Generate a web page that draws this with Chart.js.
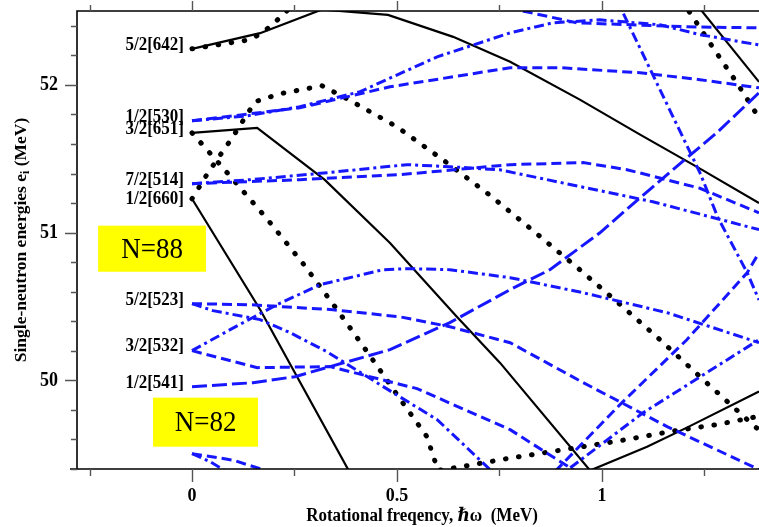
<!DOCTYPE html>
<html>
<head>
<meta charset="utf-8">
<script src="https://cdn.jsdelivr.net/npm/chart.js@4.4.0/dist/chart.umd.min.js"></script>
<style>
  html, body { margin: 0; padding: 0; background: #fff; }
  canvas { display: block; }
</style>
</head>
<body>
<canvas id="routhians" width="759" height="527"></canvas>
<script>
'use strict';
/* ═══════════════════════════════════════════════════════════════════════════
   Single-neutron routhians e_i vs rotational frequency (N=82..88 region)
   ═══════════════════════════════════════════════════════════════════════════ */

// ─── Orbital labels at hw = 0 ──────────────────────────────────────────────
const orbitals  = ['5/2[642]', '1/2[530]', '3/2[651]', '7/2[514]', '1/2[660]', '5/2[523]', '3/2[532]', '1/2[541]'];
const orbitalE  = [52.244, 51.757, 51.675, 51.331, 51.229, 50.519, 50.201, 49.957];
const gapLabels = ['N=88', 'N=82'];

// ─── Axis ticks ────────────────────────────────────────────────────────────
const xTickLabels = [0, 0.5, 1];
const xMinorTicks = [-0.25, 0.25, 0.75, 1.25];
const yTickLabels = [50, 51, 52];

// ─── Positive parity, signature a (solid black) ────────────────────────────
const hw_642a = [0, 0.166, 0.317, 0.478, 0.637, 0.776, 0.946, 1.093, 1.239, 1.383];
const e_642a  = [52.244, 52.35, 52.51, 52.474, 52.325, 52.156, 51.90, 51.663, 51.433, 51.20];
const hw_651a = [0, 0.159, 0.324, 0.483, 0.646, 0.751, 0.971, 1.11, 1.207, 1.383];
const e_651a  = [51.675, 51.709, 51.357, 50.93, 50.43, 50.12, 49.39, 49.551, 49.68, 49.924];
const hw_660a = [0, 0.166, 0.40];
const e_660a  = [51.229, 50.48, 49.30];
const hw_topA = [1.20, 1.383];
const e_topA  = [52.65, 52.02];

// ─── Positive parity, signature b (dotted black) ───────────────────────────
const hw_642b = [0, 0.141, 0.171, 0.195, 0.222, 0.245];
const e_642b  = [52.244, 52.305, 52.352, 52.406, 52.474, 52.54];
const hw_660b = [0, 0.039, 0.098, 0.154, 0.215, 0.317, 0.378, 0.5, 0.612, 0.722, 0.829, 0.937, 1.039, 1.144, 1.244, 1.373, 1.39];
const e_660b  = [51.229, 51.405, 51.642, 51.886, 51.94, 51.994, 51.906, 51.716, 51.493, 51.263, 51.02, 50.77, 50.526, 50.269, 50.012, 49.687, 49.65];
const hw_651b = [0, 0.073, 0.185, 0.271, 0.354, 0.434, 0.512, 0.573, 0.60, 0.666, 0.768, 0.905, 1.041, 1.18, 1.28, 1.383];
const e_651b  = [51.675, 51.446, 51.086, 50.79, 50.478, 50.167, 49.856, 49.619, 49.39, 49.42, 49.47, 49.53, 49.59, 49.66, 49.70, 49.757];
const hw_topB = [1.195, 1.271, 1.329, 1.383];
const e_topB  = [52.57, 52.251, 52.014, 51.777];

// ─── Negative parity, dashed blue ──────────────────────────────────────────
const hw_530d = [0, 0.263, 0.483, 0.776, 0.898, 1.093, 1.239, 1.383];
const e_530d  = [51.757, 51.845, 51.987, 52.116, 52.116, 52.082, 52.035, 51.98];
const hw_514d = [0, 0.263, 0.507, 0.776, 0.954, 1.061, 1.239, 1.383];
const e_514d  = [51.331, 51.358, 51.392, 51.46, 51.474, 51.426, 51.30, 51.134];
const hw_523d = [0, 0.141, 0.344, 0.507, 0.629, 0.776, 0.954, 1.159, 1.383];
const e_523d  = [50.519, 50.512, 50.478, 50.43, 50.363, 50.255, 49.985, 49.687, 49.396];
const hw_532d = [0, 0.159, 0.337, 0.549, 0.776, 0.929, 0.96];
const e_532d  = [50.201, 50.086, 50.093, 49.944, 49.666, 49.396, 49.34];
const hw_541d = [0, 0.149, 0.251, 0.337, 0.483, 0.629, 0.776, 0.873, 0.995, 1.093, 1.173, 1.28, 1.383];
const e_541d  = [49.957, 49.984, 50.025, 50.093, 50.208, 50.391, 50.614, 50.749, 50.999, 51.236, 51.426, 51.676, 51.947];
const hw_lowD = [0, 0.1, 0.173, 0.2];
const e_lowD  = [49.504, 49.46, 49.396, 49.37];
const hw_topD = [0.70, 0.805, 0.939, 1.207, 1.383];
const e_topD  = [52.57, 52.501, 52.42, 52.393, 52.386];
const hw_upD  = [0.86, 0.89, 1.044, 1.207, 1.354, 1.383];
const e_upD   = [49.31, 49.396, 49.836, 50.275, 50.728, 50.864];

// ─── Negative parity, dash-dot blue ────────────────────────────────────────
const hw_530c = [0, 0.134, 0.263, 0.41, 0.598, 0.776, 0.88, 0.995, 1.141, 1.239, 1.383];
const e_530c  = [51.757, 51.79, 51.852, 51.954, 52.19, 52.352, 52.42, 52.44, 52.407, 52.34, 52.27];
const hw_514c = [0, 0.141, 0.329, 0.524, 0.629, 0.751, 1.124, 1.383];
const e_514c  = [51.331, 51.358, 51.405, 51.46, 51.446, 51.425, 51.209, 51.02];
const hw_523c = [0, 0.051, 0.166, 0.239, 0.329, 0.49, 0.598, 0.727, 0.75];
const e_523c  = [50.519, 50.472, 50.411, 50.323, 50.194, 49.917, 49.734, 49.396, 49.33];
const hw_532c = [0, 0.093, 0.207, 0.312, 0.466, 0.532, 0.629, 0.776, 0.954, 1.159, 1.383];
const e_532c  = [50.201, 50.343, 50.512, 50.647, 50.749, 50.756, 50.749, 50.695, 50.593, 50.458, 50.255];
const hw_lowC = [0, 0.044, 0.076, 0.09];
const e_lowC  = [49.504, 49.45, 49.396, 49.37];
const hw_dnC  = [1.03, 1.049, 1.239, 1.283, 1.354, 1.383];
const e_dnC   = [52.61, 52.501, 51.405, 51.10, 50.73, 50.544];
const hw_upC  = [0.88, 0.917, 1.1, 1.383];
const e_upC   = [49.33, 49.396, 49.78, 50.275];

// ─── Styles ────────────────────────────────────────────────────────────────
const BLUE  = '#1717ff';
const SERIF = '"Liberation Serif", "DejaVu Serif", serif';
const STYLES = {
  solid:    { borderColor: '#000', borderWidth: 2.2, borderDash: [] },
  dotted:   { borderColor: '#000', borderWidth: 5,   borderDash: [0.6, 12.6], borderCapStyle: 'round' },
  dashed:   { borderColor: BLUE,   borderWidth: 3,   borderDash: [10, 5] },
  longdash: { borderColor: BLUE,   borderWidth: 3,   borderDash: [15, 5] },
  dashdot:  { borderColor: BLUE,   borderWidth: 3,   borderDash: [10, 4, 3, 4] },
};

function curve(hw, e, style) {
  return {
    data: hw.map((x, i) => ({ x, y: e[i] })),
    fill: false,
    pointRadius: 0,
    tension: 0,
    clip: 0,
    ...STYLES[style],
  };
}

const datasets = [
  curve(hw_530d, e_530d, 'dashed'),
  curve(hw_514d, e_514d, 'dashed'),
  curve(hw_523d, e_523d, 'dashed'),
  curve(hw_532d, e_532d, 'dashed'),
  curve(hw_541d, e_541d, 'longdash'),
  curve(hw_lowD, e_lowD, 'dashed'),
  curve(hw_topD, e_topD, 'dashed'),
  curve(hw_upD,  e_upD,  'dashed'),
  curve(hw_530c, e_530c, 'dashdot'),
  curve(hw_514c, e_514c, 'dashdot'),
  curve(hw_523c, e_523c, 'dashdot'),
  curve(hw_532c, e_532c, 'dashdot'),
  curve(hw_lowC, e_lowC, 'dashdot'),
  curve(hw_dnC,  e_dnC,  'dashdot'),
  curve(hw_upC,  e_upC,  'dashdot'),
  curve(hw_642a, e_642a, 'solid'),
  curve(hw_651a, e_651a, 'solid'),
  curve(hw_660a, e_660a, 'solid'),
  curve(hw_topA, e_topA, 'solid'),
  curve(hw_642b, e_642b, 'dotted'),
  curve(hw_660b, e_660b, 'dotted'),
  curve(hw_651b, e_651b, 'dotted'),
  curve(hw_topB, e_topB, 'dotted'),
];

// ─── Text helper (slightly tall glyphs like the scanned figure) ───────────
function text(ctx, str, x, y, font, align, sy) {
  ctx.save();
  ctx.font = font;
  ctx.textAlign = align;
  ctx.textBaseline = 'middle';
  ctx.translate(x, y);
  ctx.scale(1, sy || 1);
  ctx.fillText(str, 0, 0);
  ctx.restore();
}

// ─── Frame, ticks, labels, gap boxes ───────────────────────────────────────
const framePlugin = {
  id: 'frame',
  afterDatasetsDraw(chart) {
    const { ctx, chartArea: a, scales: { x, y } } = chart;
    ctx.save();
    ctx.fillStyle = '#000';

    // gap boxes
    const boxes = [
      { t: gapLabels[0], x0: -0.229, x1: 0.034, y0: 51.047, y1: 50.735 },
      { t: gapLabels[1], x0: -0.095, x1: 0.161, y0: 49.883, y1: 49.551 },
    ];
    boxes.forEach(b => {
      const px0 = x.getPixelForValue(b.x0), px1 = x.getPixelForValue(b.x1);
      const py0 = y.getPixelForValue(b.y0), py1 = y.getPixelForValue(b.y1);
      ctx.fillStyle = '#ffff00';
      ctx.fillRect(px0, py0, px1 - px0, py1 - py0);
      ctx.fillStyle = '#000';
      text(ctx, b.t, (px0 + px1) / 2, (py0 + py1) / 2 + 1, `27px ${SERIF}`, 'center', 1.12);
    });

    // spines
    ctx.strokeStyle = '#000';
    ctx.lineWidth = 1.6;
    ctx.beginPath();
    ctx.moveTo(a.left, a.bottom); ctx.lineTo(a.left, a.top); ctx.lineTo(a.right, a.top);
    ctx.moveTo(a.left - 7, a.bottom); ctx.lineTo(a.right, a.bottom);
    ctx.stroke();

    // y ticks (outward, left)
    ctx.strokeStyle = '#555';
    ctx.lineWidth = 1.4;
    ctx.beginPath();
    for (let k = 0; k <= 15; k++) {
      const v = 49.4 + k * 0.2;
      if (v > 52.45) break;
      const py = Math.round(y.getPixelForValue(v)) + 0.5;
      const major = yTickLabels.some(t => Math.abs(t - v) < 1e-6);
      ctx.moveTo(a.left, py); ctx.lineTo(a.left - (major ? 12 : 6), py);
    }
    // x ticks (outward, top and bottom)
    [...xTickLabels, ...xMinorTicks].forEach(v => {
      const major = xTickLabels.includes(v);
      const px = Math.round(x.getPixelForValue(v)) + 0.5;
      ctx.moveTo(px, a.top); ctx.lineTo(px, a.top - (major ? 10 : 6));
      ctx.moveTo(px, a.bottom); ctx.lineTo(px, a.bottom + (major ? 13 : 7));
    });
    ctx.stroke();

    // tick labels
    ctx.fillStyle = '#000';
    yTickLabels.forEach(v => {
      text(ctx, String(v), a.left - 19, y.getPixelForValue(v), `bold 18px ${SERIF}`, 'right', 1.15);
    });
    xTickLabels.forEach(v => {
      text(ctx, String(v), x.getPixelForValue(v), 496, `bold 18px ${SERIF}`, 'center', 1.1);
    });

    // orbital labels (sit a little above their level, except 1/2[660])
    orbitals.forEach((name, i) => {
      const lift = name === '1/2[660]' ? 0 : 4;
      text(ctx, name, x.getPixelForValue(0) - 8, y.getPixelForValue(orbitalE[i]) - lift,
        `bold 17px ${SERIF}`, 'right', 1.1);
    });

    // axis titles
    text(ctx, 'Rotational freqency, \u210F\u03C9  (MeV)', 422, 516, `bold 17px ${SERIF}`, 'center', 1.1);

    ctx.save();
    ctx.translate(21, 240);
    ctx.rotate(-Math.PI / 2);
    ctx.textBaseline = 'middle';
    ctx.textAlign = 'left';
    const main = 'Single-neutron energies e';
    const tail = ' (MeV)';
    ctx.font = `bold 17.5px ${SERIF}`;
    const wMain = ctx.measureText(main).width;
    const wTail = ctx.measureText(tail).width;
    ctx.font = `bold 12px ${SERIF}`;
    const wSub = ctx.measureText('i').width;
    let cx = -(wMain + wSub + wTail) / 2;
    ctx.font = `bold 17.5px ${SERIF}`;
    ctx.fillText(main, cx, 0); cx += wMain;
    ctx.font = `bold 12px ${SERIF}`;
    ctx.fillText('i', cx, 5); cx += wSub;
    ctx.font = `bold 17.5px ${SERIF}`;
    ctx.fillText(tail, cx, 0);
    ctx.restore();

    ctx.restore();
  },
};

// ─── Chart ─────────────────────────────────────────────────────────────────
new Chart(document.getElementById('routhians'), {
  type: 'line',
  data: { datasets },
  options: {
    responsive: false,
    animation: false,
    layout: { padding: { left: 77, top: 11, right: 0, bottom: 58 } },
    plugins: { legend: { display: false }, tooltip: { enabled: false } },
    elements: { point: { radius: 0 } },
    scales: {
      x: { type: 'linear', min: -0.2805, max: 1.383, display: false },
      y: { type: 'linear', min: 49.4, max: 52.5, display: false },
    },
  },
  plugins: [framePlugin],
});
</script>
</body>
</html>
